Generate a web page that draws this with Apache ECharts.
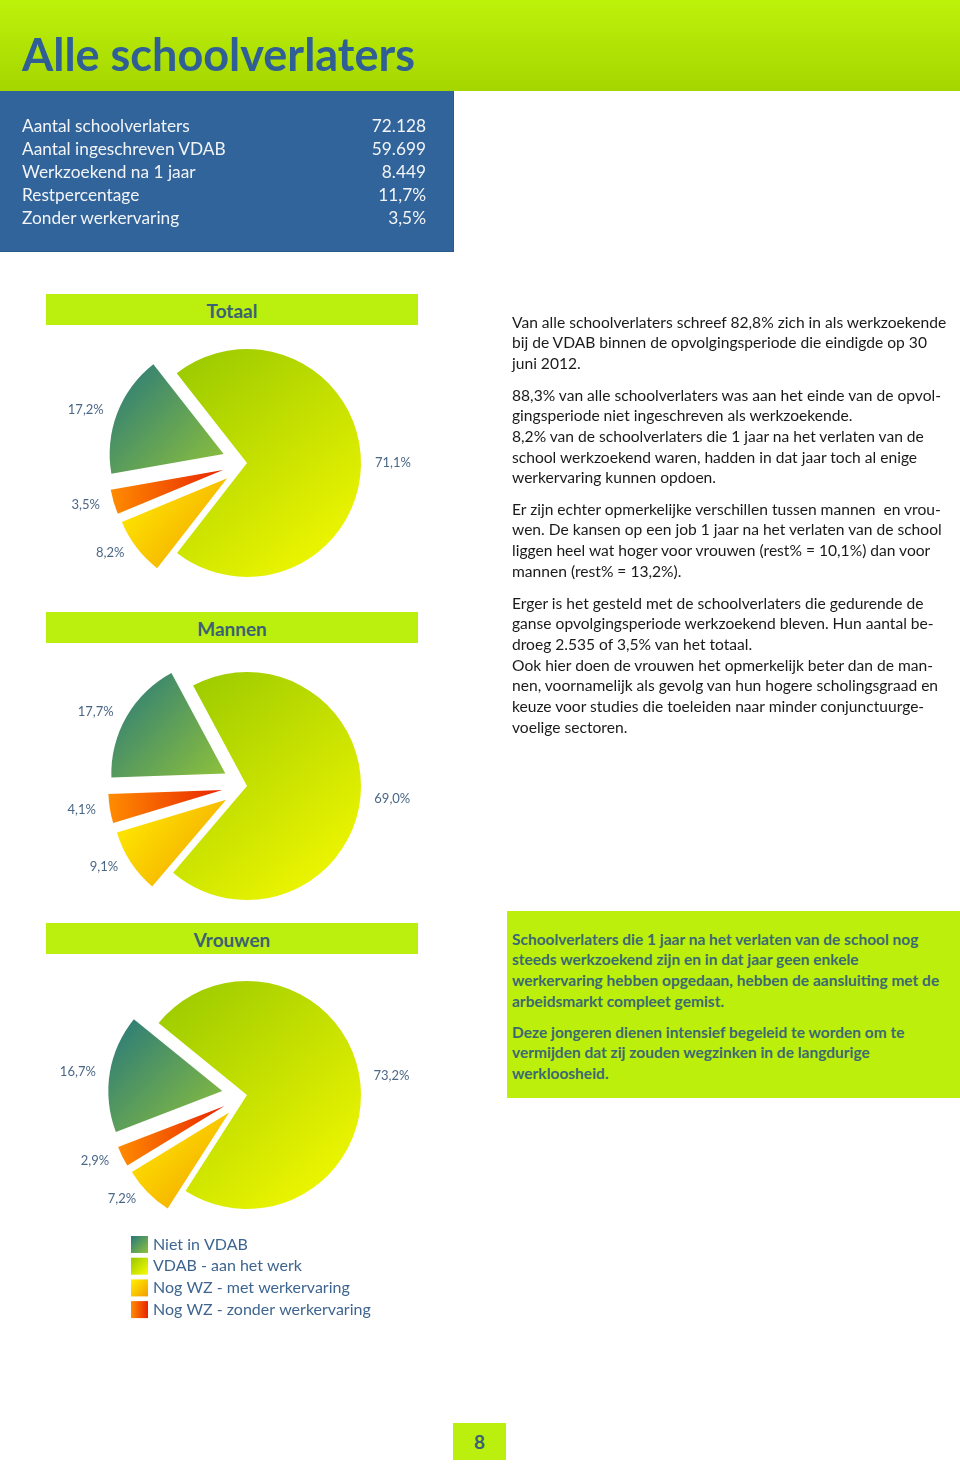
<!DOCTYPE html>
<html>
<head>
<meta charset="utf-8">
<script src="https://cdn.jsdelivr.net/npm/echarts@6/dist/echarts.min.js"></script>
<style>
  html, body { margin:0; padding:0; background:#fff; }
  body { width:960px; height:1465px; position:relative; overflow:hidden; font-family: Lato, "Open Sans", sans-serif; }
  #chart { position:absolute; left:0; top:0; width:960px; height:1465px; }
  .abs { position:absolute; }
  .line { white-space:nowrap; }
  #titlebar { left:0; top:0; width:960px; height:91px; background:linear-gradient(#bdf20b, #a5d600); }
  #title { left:22px; top:29px; font-size:45px; line-height:50px; font-weight:700; color:#2f5f95; }
  #bluebox { left:0; top:91px; width:453px; height:160px; background:#30649a; border-right:1px solid #2a5a8a; border-bottom:1px solid #2a5a8a; }
  .brow { position:absolute; left:22px; width:404px; height:23px; line-height:23px; font-size:17.3px; color:#f2f4f7; }
  .brow span.v { position:absolute; right:0; }
  .hbar { position:absolute; left:46px; width:372px; height:31px; background:#bbef0e; text-align:center; font-size:19px; font-weight:700; color:#3a6274; line-height:33px; }
  .para { position:absolute; left:512px; font-size:15.6px; line-height:20.7px; color:#1a1a1a; }
  #greenbox { left:507px; top:911px; width:453px; height:187px; background:#bcef0c; }
  .gpara { position:absolute; left:512px; font-size:15.5px; line-height:20.7px; color:#3b6a72; font-weight:700; }
  #pagebox { left:453px; top:1423px; width:53px; height:37px; background:#bbef0e; text-align:center; line-height:37px; font-size:19px; font-weight:700; color:#3a6274; }
</style>
</head>
<body>
<div id="chart"></div>
<div id="titlebar" class="abs"></div>
<div id="title" class="abs line">Alle schoolverlaters</div>
<div id="bluebox" class="abs"></div>
<div id="summary"></div>
<div class="hbar" style="top:294px;">Totaal</div>
<div class="hbar" style="top:612px;">Mannen</div>
<div class="hbar" style="top:923px;">Vrouwen</div>
<div id="greenbox" class="abs"></div>
<div id="texts"></div>
<div id="pagebox" class="abs">8</div>
<script>
// ---------- data ----------
const categories = ['Niet in VDAB', 'VDAB - aan het werk', 'Nog WZ - met werkervaring', 'Nog WZ - zonder werkervaring'];
const totaalValues = [17.2, 71.1, 8.2, 3.5];
const mannenValues = [17.7, 69.0, 9.1, 4.1];
const vrouwenValues = [16.7, 73.2, 7.2, 2.9];

const summaryLabels = ['Aantal schoolverlaters', 'Aantal ingeschreven VDAB', 'Werkzoekend na 1 jaar', 'Restpercentage', 'Zonder werkervaring'];
const summaryValues = ['72.128', '59.699', '8.449', '11,7%', '3,5%'];

const paragraphs = [
  ['Van alle schoolverlaters schreef 82,8% zich in als werkzoekende',
   'bij de VDAB binnen de opvolgingsperiode die eindigde op 30',
   'juni 2012.'],
  ['88,3% van alle schoolverlaters was aan het einde van de opvol-',
   'gingsperiode niet ingeschreven als werkzoekende.',
   '8,2% van de schoolverlaters die 1 jaar na het verlaten van de',
   'school werkzoekend waren, hadden in dat jaar toch al enige',
   'werkervaring kunnen opdoen.'],
  ['Er zijn echter opmerkelijke verschillen tussen mannen\u00a0 en vrou-',
   'wen. De kansen op een job 1 jaar na het verlaten van de school',
   'liggen heel wat hoger voor vrouwen (rest% = 10,1%) dan voor',
   'mannen (rest% = 13,2%).'],
  ['Erger is het gesteld met de schoolverlaters die gedurende de',
   'ganse opvolgingsperiode werkzoekend bleven. Hun aantal be-',
   'droeg 2.535 of 3,5% van het totaal.',
   'Ook hier doen de vrouwen het opmerkelijk beter dan de man-',
   'nen, voornamelijk als gevolg van hun hogere scholingsgraad en',
   'keuze voor studies die toeleiden naar minder conjunctuurge-',
   'voelige sectoren.']
];
const greenParagraphs = [
  ['Schoolverlaters die 1 jaar na het verlaten van de school nog',
   'steeds werkzoekend zijn en in dat jaar geen enkele',
   'werkervaring hebben opgedaan, hebben de aansluiting met de',
   'arbeidsmarkt compleet gemist.'],
  ['Deze jongeren dienen intensief begeleid te worden om te',
   'vermijden dat zij zouden wegzinken in de langdurige',
   'werkloosheid.']
];

// ---------- html text ----------
(function(){
  const s = document.getElementById('summary');
  summaryLabels.forEach((l,i)=>{
    const d = document.createElement('div');
    d.className = 'brow line';
    d.style.top = (113.5 + i*23) + 'px';
    d.innerHTML = '<span></span><span class="v"></span>';
    d.children[0].textContent = l;
    d.children[1].textContent = summaryValues[i];
    s.appendChild(d);
  });
  const t = document.getElementById('texts');
  const pTops = [322, 395, 509, 603];
  paragraphs.forEach((p,i)=>{
    const d = document.createElement('div');
    d.className = 'para';
    d.style.top = (pTops[i] - 10.35) + 'px';
    p.forEach(l=>{ const e=document.createElement('div'); e.className='line'; e.textContent=l; d.appendChild(e); });
    t.appendChild(d);
  });
  const gTops = [939, 1032];
  greenParagraphs.forEach((p,i)=>{
    const d = document.createElement('div');
    d.className = 'gpara';
    d.style.top = (gTops[i] - 10.35) + 'px';
    p.forEach(l=>{ const e=document.createElement('div'); e.className='line'; e.textContent=l; d.appendChild(e); });
    t.appendChild(d);
  });
})();

// ---------- chart ----------
const G = echarts.graphic.LinearGradient;
const sliceColors = [
  new G(0, 0, 1, 1, [{offset:0, color:'#27787c'}, {offset:1, color:'#8fc23a'}]),
  new G(0, 0, 1, 1, [{offset:0, color:'#97c800'}, {offset:1, color:'#fafc00'}]),
  new G(0, 0, 1, 1, [{offset:0, color:'#fff200'}, {offset:1, color:'#f39c00'}]),
  new G(0, 0, 1, 0, [{offset:0, color:'#ff8c00'}, {offset:1, color:'#e82400'}])
];
const fmt = v => v.toFixed(1).replace('.', ',') + '%';

function pieSeries(values, center, startAngle) {
  return {
    type: 'pie',
    center: center,
    radius: 114,
    startAngle: startAngle,
    clockwise: true,
    selectedMode: 'multiple',
    selectedOffset: 25,
    avoidLabelOverlap: false,
    animation: false,
    emphasis: { disabled: true },
    label: {
      show: true, position: 'outside',
      formatter: p => fmt(p.value),
      color: '#4b6787', fontSize: 13, fontFamily: 'Lato'
    },
    labelLine: { show: false, length: 9, length2: 0 },
    data: categories.map((c, i) => ({
      name: c, value: values[i], selected: i !== 1,
      itemStyle: { color: sliceColors[i] },
      select: { itemStyle: { color: sliceColors[i], borderWidth: 0 } }
    }))
  };
}

const chart = echarts.init(document.getElementById('chart'), null, { renderer: 'canvas' });
chart.setOption({
  animation: false,
  legend: {
    orient: 'vertical', left: 131, top: 1236, padding: 0,
    itemWidth: 17, itemHeight: 17, itemGap: 4.7,
    icon: 'rect', selectedMode: false,
    textStyle: { fontSize: 16, color: '#3e6590', fontFamily: 'Lato' },
    data: categories
  },
  series: [
    pieSeries(totaalValues, [247, 463], 190),
    pieSeries(mannenValues, [247, 786], 182),
    pieSeries(vrouwenValues, [247, 1095], 201)
  ]
});
</script>
</body>
</html>
